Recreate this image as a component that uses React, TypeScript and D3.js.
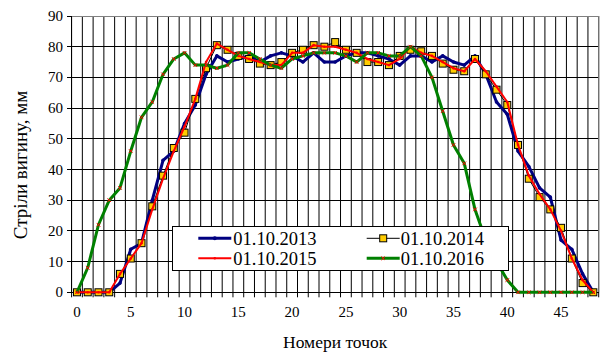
import React from "react";
import * as d3 from "d3";

const categories: number[] = d3.range(0, 49);
const xTickLabels: number[] = [0, 5, 10, 15, 20, 25, 30, 35, 40, 45];
const yTickLabels: number[] = [0, 10, 20, 30, 40, 50, 60, 70, 80, 90];

const s2013: number[] = [0,0,0,0,3,14,16,30,43,46,55,61,71,77,75,76,77,75,77,78,77,75,78,75,75,77,78,78,77,76,74,77,77,75,77,75,74,77,71,62,58,46,41,34,31,17,14,6,0];
const s2014: number[] = [0,0,0,0,6,11,16,28,38,47,52,63,73,80.5,79,77,76,74.5,74,75,78,79,80.5,80,81.5,79,78,75,75,74,77,79,78.5,77,74.5,72.5,72,76,71,66,61,48,37,31,27,21,11,3,0];
const s2015: number[] = [0,0,0,0,6,11,16,27,37,46,54,63,75,81,79,77,76,75,74,74,78,78,80.5,80,80,79,78,76,75,74,76,80,78,77,75,73,72,76,72,67,62,48,38,32,27,20,11,4,0];
const s2016: number[] = [0,8,22,30,34,46,57,62,71,76,78,74,74,73,74,78,78,76,74,73,76,77,78,78,78,77,75,78,78,77,77,80,77,70,59,48,42,27,17,10,4,0,0,0,0,0,0,0,0];
const seriesNames: string[] = ["01.10.2013", "01.10.2014", "01.10.2015", "01.10.2016"];

const W = 600, H = 356;
const L = 71.6, R = 598.7, T = 16, B = 292.3;
const FONT = "'Liberation Serif', 'DejaVu Serif', 'Times New Roman', Times, serif";
const tstyle = { fontFamily: FONT } as React.CSSProperties;

export default function App() {
  const x = d3.scaleLinear().domain([-0.5, 48.5]).range([L, R]);
  const y = d3.scaleLinear().domain([0, 90]).range([B, T]);
  const line = d3.line<number>().x((_, i) => x(categories[i])).y((d) => y(d));
  const bounds = d3.range(-0.5, 49, 1);

  const sq = (cx: number, cy: number, k: string) => (
    <rect key={k} x={cx - 3.5} y={cy - 3.5} width={7} height={7} fill="#FFCC00" stroke="#000" strokeWidth={1} />
  );
  const cross = (cx: number, cy: number, k: string) => (
    <path key={k} d={`M${cx - 1.8},${cy - 1.8}L${cx + 1.8},${cy + 1.8}M${cx - 1.8},${cy + 1.8}L${cx + 1.8},${cy - 1.8}`} stroke="#FF0000" strokeWidth={1} />
  );

  const legendRows = [
    { name: seriesNames[0], lx: 198.3, tx: 233.3, cy: 238.3, color: "#000080", w: 3, marker: "dot" },
    { name: seriesNames[1], lx: 366.7, tx: 400.7, cy: 238.3, color: "#000000", w: 1, marker: "sq" },
    { name: seriesNames[2], lx: 198.3, tx: 233.3, cy: 258.3, color: "#FF0000", w: 2, marker: "rdot" },
    { name: seriesNames[3], lx: 366.7, tx: 400.7, cy: 258.3, color: "#008000", w: 3, marker: "x" },
  ];

  return (
    <svg width={W} height={H} style={{ position: "absolute", left: 0, top: 0, background: "#fff", fontFamily: FONT }}>
      <rect x={0} y={0} width={W} height={H} fill="#fff" />
      {bounds.map((b) => (
        <line key={"vg" + b} x1={x(b)} x2={x(b)} y1={T} y2={B} stroke="#000" strokeWidth={1} />
      ))}
      {yTickLabels.slice(1, -1).map((v) => (
        <line key={"hg" + v} x1={L} x2={R} y1={y(v)} y2={y(v)} stroke="#000" strokeWidth={1} shapeRendering="crispEdges" />
      ))}
      <line x1={L} x2={R} y1={T} y2={T} stroke="#808080" strokeWidth={1} shapeRendering="crispEdges" />
      <line x1={R} x2={R} y1={T} y2={B} stroke="#808080" strokeWidth={1} />
      <line x1={L} x2={L} y1={T} y2={B} stroke="#000" strokeWidth={1} shapeRendering="crispEdges" />
      <line x1={L} x2={R} y1={B} y2={B} stroke="#000" strokeWidth={1} shapeRendering="crispEdges" />
      {yTickLabels.map((v) => (
        <g key={"yt" + v}>
          <line x1={L - 5} x2={L} y1={y(v)} y2={y(v)} stroke="#000" shapeRendering="crispEdges" />
          <text x={63} y={y(v) + 5} fontSize={15} textAnchor="end" fill="#000" style={tstyle}>{v}</text>
        </g>
      ))}
      {bounds.map((b) => (
        <line key={"xt" + b} x1={x(b)} x2={x(b)} y1={B} y2={B + 5} stroke="#000" />
      ))}
      {xTickLabels.map((v) => (
        <text key={"xl" + v} x={x(v)} y={317} fontSize={15} textAnchor="middle" fill="#000" style={tstyle}>{v}</text>
      ))}
      <text x={(L + R) / 2} y={348} fontSize={17.5} textAnchor="middle" fill="#000" style={tstyle}>Номери точок</text>
      <text transform="translate(27,165) rotate(-90)" fontSize={19} textAnchor="middle" fill="#000" style={tstyle}>Стріли вигину, мм</text>

      <path d={line(s2013) || ""} fill="none" stroke="#000080" strokeWidth={3} strokeLinejoin="round" />
      {s2013.map((v, i) => (
        <circle key={"m13" + i} cx={x(categories[i])} cy={y(v)} r={1.8} fill="#000080" />
      ))}
      <path d={line(s2014) || ""} fill="none" stroke="#000" strokeWidth={1} />
      {s2014.map((v, i) => sq(x(categories[i]), y(v), "m14" + i))}
      <path d={line(s2015) || ""} fill="none" stroke="#FF0000" strokeWidth={2} strokeLinejoin="round" />
      {s2015.map((v, i) => (
        <circle key={"m15" + i} cx={x(categories[i])} cy={y(v)} r={1.3} fill="#FF0000" />
      ))}
      <path d={line(s2016) || ""} fill="none" stroke="#008000" strokeWidth={3} strokeLinejoin="round" />
      {s2016.map((v, i) => cross(x(categories[i]), y(v), "m16" + i))}

      <rect x={172.7} y={226.7} width={335.6} height={43.8} fill="#fff" stroke="#000" strokeWidth={1} shapeRendering="crispEdges" />
      {legendRows.map((r) => (
        <g key={"lg" + r.name}>
          <line x1={r.lx} x2={r.lx + 33} y1={r.cy} y2={r.cy} stroke={r.color} strokeWidth={r.w} />
          {r.marker === "dot" && <circle cx={r.lx + 16.5} cy={r.cy} r={2} fill="#000080" />}
          {r.marker === "rdot" && <circle cx={r.lx + 16.5} cy={r.cy} r={1.3} fill="#FF0000" />}
          {r.marker === "sq" && sq(r.lx + 16.5, r.cy, "lsq")}
          {r.marker === "x" && cross(r.lx + 16.5, r.cy, "lx")}
          <text x={r.tx} y={r.cy + 6.3} fontSize={18.5} fill="#000" style={tstyle}>{r.name}</text>
        </g>
      ))}
    </svg>
  );
}
